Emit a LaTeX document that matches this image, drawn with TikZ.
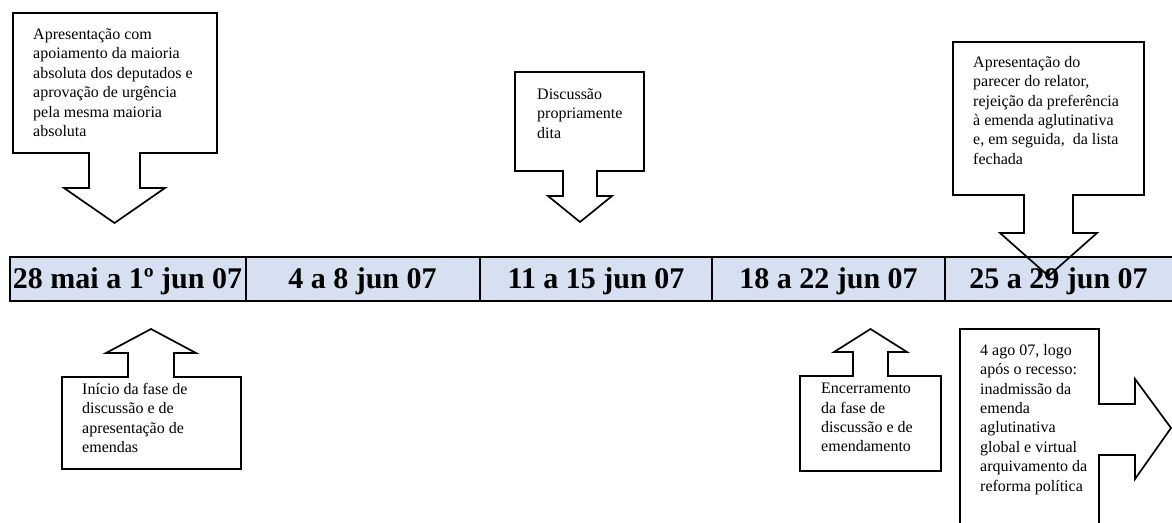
\documentclass[tikz,border=0pt]{standalone}
\usepackage{fontspec}
\setmainfont{Liberation Serif}
\definecolor{barblue}{HTML}{D6E0F0}
\begin{document}
\begin{tikzpicture}[x=1pt,y=-1pt,
  callout/.style={draw=black, line width=1.7pt, line join=miter, fill=none},
  cell/.style={draw=black, line width=1.3pt, fill=barblue, minimum height=44pt, inner sep=0pt},
  datelbl/.style={anchor=base, inner sep=0pt, font=\fontsize{30}{36}\selectfont\bfseries},
  note/.style={anchor=north west, inner sep=0pt, align=left, font=\fontsize{16}{19.4}\selectfont}]
\useasboundingbox (0,0) rectangle (1172,522);
\clip (0,0) rectangle (1172,522);
% timeline bar
\node[cell, minimum width=236pt] (c1) at (128,279) {};
\node[cell, minimum width=234pt] (c2) at (363,279) {};
\node[cell, minimum width=232pt] (c3) at (596,279) {};
\node[cell, minimum width=233pt] (c4) at (828.5,279) {};
\node[cell, minimum width=232pt] (c5) at (1061,279) {};
\node[datelbl] (t1) at (127.5,288) {28 mai a 1º jun 07};
\node[datelbl] (t2) at (362.5,288) {4 a 8 jun 07};
\node[datelbl] (t3) at (596,288) {11 a 15 jun 07};
\node[datelbl] (t4) at (828.5,288) {18 a 22 jun 07};
\node[datelbl] (t5) at (1058.5,288) {25 a 29 jun 07};
% callout 1 (down)
\draw[callout] (13,13) -- (217,13) -- (217,153) -- (140,153) -- (140,188) -- (165,188)
  -- (114.5,223) -- (64,188) -- (89,188) -- (89,153) -- (13,153) -- cycle;
\node[note] (n1) at (33,28.5) {Apresentação com\\apoiamento da maioria\\absoluta dos deputados e\\aprovação de urgência\\pela mesma maioria\\absoluta};
% callout 2 (down)
\draw[callout] (515,72) -- (644,72) -- (644,171) -- (597,171) -- (597,196) -- (612,196)
  -- (580,222) -- (548,196) -- (563,196) -- (563,171) -- (515,171) -- cycle;
\node[note] (n2) at (537,88.5) {Discussão\\propriamente\\dita};
% callout 3 (down, into bar)
\draw[callout] (953,42) -- (1144,42) -- (1144,195) -- (1073,195) -- (1073,233) -- (1097,233)
  -- (1048.5,276) -- (1000,233) -- (1024,233) -- (1024,195) -- (953,195) -- cycle;
\node[note] (n3) at (973,56) {Apresentação do\\parecer do relator,\\rejeição da preferência\\à emenda aglutinativa\\e, em seguida,\ \ da lista\\fechada};
% callout 4 (up)
\draw[callout] (62,377) -- (128,377) -- (128,353) -- (106,353) -- (151,329) -- (196,353)
  -- (174,353) -- (174,377) -- (241,377) -- (241,469) -- (62,469) -- cycle;
\node[note] (n4) at (82,383) {Início da fase de\\discussão e de\\apresentação de\\emendas};
% callout 5 (up)
\draw[callout] (800,376) -- (853,376) -- (853,352) -- (834,352) -- (870.5,329) -- (907,352)
  -- (888,352) -- (888,376) -- (941,376) -- (941,471) -- (800,471) -- cycle;
\node[note] (n5) at (821,383) {Encerramento\\da fase de\\discussão e de\\emendamento};
% callout 6 (right)
\draw[callout] (960,545) -- (960,329) -- (1099,329) -- (1099,404) -- (1135,404) -- (1135,379)
  -- (1171,428) -- (1135,479) -- (1135,455) -- (1099,455) -- (1099,545);
\node[note] (n6) at (980,344) {4 ago 07, logo\\após o recesso:\\inadmissão da\\emenda\\aglutinativa\\global e virtual\\arquivamento da\\reforma política};
\end{tikzpicture}
\end{document}
